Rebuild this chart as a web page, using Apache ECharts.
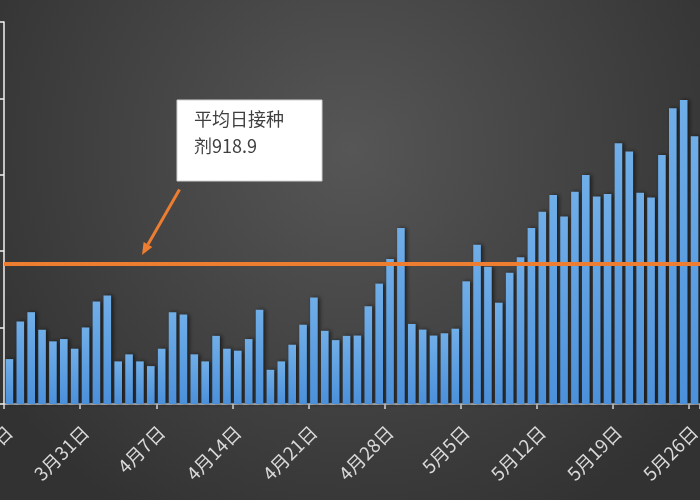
<!DOCTYPE html>
<html>
<head>
<meta charset="utf-8">
<script src="https://cdn.jsdelivr.net/npm/echarts/dist/echarts.min.js"></script>
<style>
  html, body { margin: 0; padding: 0; background: #3a3a3a; }
  #container { width: 700px; height: 500px; }
</style>
</head>
<body>
<div id="container"></div>
<script>
// daily doses, 3/24 .. 5/26
var dates = [
  '3月24日','3月25日','3月26日','3月27日','3月28日','3月29日','3月30日',
  '3月31日','4月1日','4月2日','4月3日','4月4日','4月5日','4月6日',
  '4月7日','4月8日','4月9日','4月10日','4月11日','4月12日','4月13日',
  '4月14日','4月15日','4月16日','4月17日','4月18日','4月19日','4月20日',
  '4月21日','4月22日','4月23日','4月24日','4月25日','4月26日','4月27日',
  '4月28日','4月29日','4月30日','5月1日','5月2日','5月3日','5月4日',
  '5月5日','5月6日','5月7日','5月8日','5月9日','5月10日','5月11日',
  '5月12日','5月13日','5月14日','5月15日','5月16日','5月17日','5月18日',
  '5月19日','5月20日','5月21日','5月22日','5月23日','5月24日','5月25日',
  '5月26日'
];
var doses = [
  294, 540, 601, 486, 410, 425, 362,
  501, 671, 710, 279, 325, 279, 248,
  362, 601, 586, 325, 279, 446, 362,
  349, 425, 617, 224, 279, 388, 519,
  697, 479, 418, 446, 448, 639, 788,
  949, 1152, 524, 487, 448, 463, 493,
  803, 1042, 899, 663, 859, 960, 1152,
  1258, 1367, 1227, 1389, 1498, 1358, 1374,
  1707, 1652, 1382, 1352, 1629, 1936, 1990,
  1753
];
var avgDose = 918.9;
var noteLines = ['平均日接种', '剂918.9'];

var dom = document.getElementById('container');
var myChart = echarts.init(dom);

// arrow from the note box down to the average line
var arrowFrom = [179.5, 189.5];
var arrowTo = [142, 255];
var dx = arrowTo[0] - arrowFrom[0], dy = arrowTo[1] - arrowFrom[1];
var len = Math.sqrt(dx * dx + dy * dy);
var ux = dx / len, uy = dy / len;
var headLen = 12, headW = 5;
var bx = arrowTo[0] - ux * headLen, by = arrowTo[1] - uy * headLen;

var option = {
  backgroundColor: new echarts.graphic.RadialGradient(0.5, 0.3, 0.85, [
    { offset: 0, color: '#565656' },
    { offset: 1, color: '#323232' }
  ]),
  animation: false,
  grid: { left: 4, right: 0, top: 22, bottom: 96, containLabel: false, outerBoundsMode: 'none' },
  xAxis: {
    type: 'category',
    data: dates,
    axisLine: { lineStyle: { color: '#d9d9d9', width: 1.5 } },
    axisTick: { show: true, interval: 6, length: 5, lineStyle: { color: '#d9d9d9', width: 1.5 } },
    axisLabel: {
      interval: 6,
      rotate: 45,
      margin: 25,
      color: '#d9d9d9',
      fontSize: 18.5,
      fontFamily: 'Noto Sans CJK SC'
    }
  },
  yAxis: {
    type: 'value',
    min: 0,
    max: 2500,
    interval: 500,
    splitLine: { show: false },
    axisLine: { show: true, lineStyle: { color: '#f2f2f2', width: 1.5 } },
    axisTick: { show: true, length: 4, lineStyle: { color: '#f2f2f2', width: 1.5 } },
    axisLabel: { show: false }
  },
  series: [{
    type: 'bar',
    data: doses,
    barCategoryGap: '30%',
    itemStyle: {
      color: new echarts.graphic.LinearGradient(0, 0, 0, 1, [
        { offset: 0, color: '#70aee8' },
        { offset: 1, color: '#4b90da' }
      ]),
      shadowColor: 'rgba(0,0,0,0.6)',
      shadowBlur: 4,
      shadowOffsetX: 2
    },
    markLine: {
      silent: true,
      symbol: 'none',
      label: { show: false },
      lineStyle: { color: '#ed7d31', width: 4, type: 'solid' },
      data: [{ yAxis: avgDose }]
    }
  }],
  graphic: [
    {
      type: 'rect',
      shape: { x: 177, y: 100, width: 145, height: 81 },
      style: { fill: '#ffffff', stroke: '#d0d0d0', lineWidth: 1 }
    },
    {
      type: 'text',
      x: 194,
      y: 106,
      style: {
        text: noteLines.join('\n'),
        fill: '#404040',
        fontSize: 18,
        lineHeight: 27,
        fontFamily: 'Noto Sans CJK SC'
      }
    },
    {
      type: 'line',
      shape: { x1: arrowFrom[0], y1: arrowFrom[1], x2: bx, y2: by },
      style: { stroke: '#ed7d31', lineWidth: 3 }
    },
    {
      type: 'polygon',
      shape: {
        points: [
          arrowTo,
          [bx - uy * headW, by + ux * headW],
          [bx + uy * headW, by - ux * headW]
        ]
      },
      style: { fill: '#ed7d31' }
    }
  ]
};

if (option && typeof option === 'object') {
  myChart.setOption(option, true);
}
</script>
</body>
</html>
